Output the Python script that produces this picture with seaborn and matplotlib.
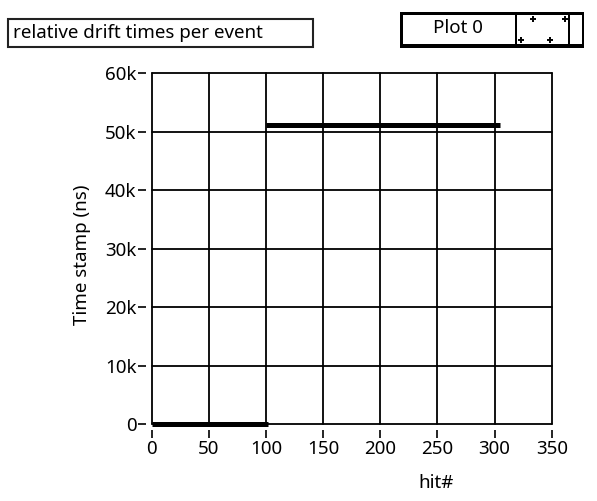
import matplotlib
matplotlib.use("Agg")
import matplotlib.pyplot as plt
from matplotlib.patches import Rectangle
import seaborn as sns
import pandas as pd

# ---- data ----
segment_ids = ["early", "early", "late", "late"]
hit_numbers = [0, 102, 100, 305]
time_stamps_ns = [0, 0, 51200, 51200]

x_ticks = [0, 50, 100, 150, 200, 250, 300, 350]
y_ticks = [0, 10000, 20000, 30000, 40000, 50000, 60000]
y_tick_labels = ["0", "10k", "20k", "30k", "40k", "50k", "60k"]

title_text = "relative drift times per event"
legend_text = "Plot 0"
x_label = "hit#"
y_label = "Time stamp (ns)"

df = pd.DataFrame({"segment": segment_ids, "hit": hit_numbers, "time": time_stamps_ns})

sns.set_theme(style="white")
plt.rcParams["font.family"] = ["Noto Sans", "DejaVu Sans"]
FS = 13.5

W, H = 597, 501
fig = plt.figure(figsize=(W / 100, H / 100), dpi=100)
fig.patch.set_facecolor("white")

L, R, T, B = 151.7, 551.7, 73.3, 424.3
ax = fig.add_axes([L / W, 1 - B / H, (R - L) / W, (B - T) / H])
ax.set_facecolor("white")

sns.lineplot(data=df, x="hit", y="time", units="segment", estimator=None,
             sort=False, color="black", linewidth=3.6, ax=ax, legend=False,
             solid_capstyle="butt", zorder=5)
for ln in ax.lines:
    ln.set_clip_on(False)

ax.set_xlim(0, 350)
ax.set_ylim(0, 60000)
ax.set_xticks(x_ticks)
ax.set_yticks(y_ticks)
ax.set_yticklabels(y_tick_labels)

for name, sp in ax.spines.items():
    sp.set_visible(False)
ax.spines["left"].set_position(("outward", 4))
ax.spines["bottom"].set_position(("outward", 4))

ax.grid(True, color="black", linewidth=1.3)
for gl in ax.get_xgridlines() + ax.get_ygridlines():
    gl.set_clip_on(False)
ax.set_axisbelow(True)

ax.tick_params(axis="both", which="major", direction="out", length=6, width=1.2,
               color="black", labelsize=FS, labelcolor="black", pad=1,
               left=True, bottom=True)

ax.set_xlabel("")
ax.set_ylabel("")
fig.text(436 / W, 1 - 483 / H, x_label, ha="center", va="center", fontsize=FS, color="black")
fig.text(82 / W, 1 - 255 / H, y_label, ha="center", va="center", rotation=90,
         fontsize=FS, color="black")

# title box
fig.patches.append(Rectangle((8 / W, 1 - 47 / H), 305 / W, 28 / H, transform=fig.transFigure,
                             facecolor="white", edgecolor="#222222", linewidth=1.5))
fig.text(13 / W, 1 - 33 / H, title_text, ha="left", va="center", fontsize=FS, color="black")

# legend box
fig.patches.append(Rectangle((400 / W, 1 - 48 / H), 184 / W, 36 / H, transform=fig.transFigure,
                             facecolor="black", edgecolor="black", linewidth=0))
fig.patches.append(Rectangle((403 / W, 1 - 44 / H), 112 / W, 29 / H, transform=fig.transFigure,
                             facecolor="white", edgecolor="none"))
fig.patches.append(Rectangle((517 / W, 1 - 44 / H), 51 / W, 29 / H, transform=fig.transFigure,
                             facecolor="white", edgecolor="none"))
fig.patches.append(Rectangle((570 / W, 1 - 44 / H), 12 / W, 29 / H, transform=fig.transFigure,
                             facecolor="white", edgecolor="none"))
fig.text(458 / W, 1 - 28 / H, legend_text, ha="center", va="center", fontsize=FS, color="black")
for px, py, m in [(533, 19, "+"), (565, 19, "+"), (521, 40, "+"), (550, 40, "+")]:
    fig.lines.append(plt.Line2D([px / W], [1 - py / H], transform=fig.transFigure,
                                marker=m, markersize=4, color="black", markeredgewidth=1.4))

fig.savefig("out.png", dpi=100, facecolor="white")
